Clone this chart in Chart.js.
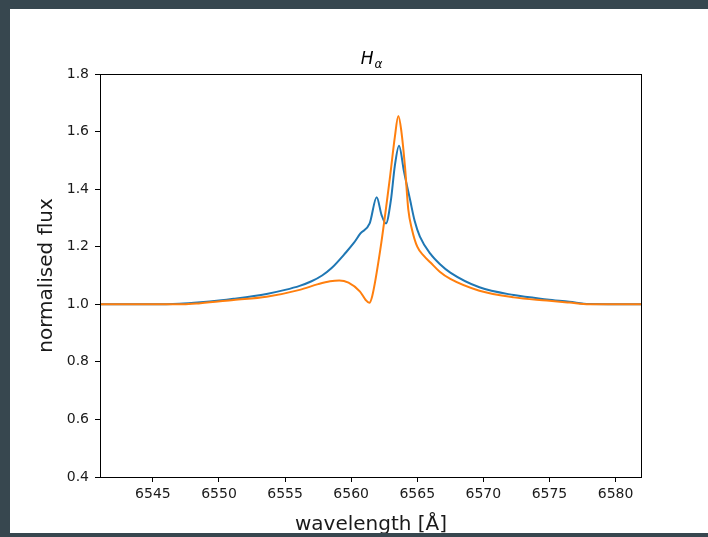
<!DOCTYPE html>
<html>
<head>
<meta charset="utf-8">
<style>
  html, body { margin: 0; padding: 0; background: #37474f; width: 708px; height: 537px; overflow: hidden; }
  .panel { position: absolute; left: 10px; top: 9px; width: 698px; height: 524px; background: #fff; overflow: hidden; }
  canvas { display: block; }
</style>
</head>
<body>
<div class="panel">
  <canvas id="myChart" width="698" height="545"></canvas>
</div>
<script src="https://cdn.jsdelivr.net/npm/chart.js@4.4.1/dist/chart.umd.min.js"></script>
<script>
// series 1 (blue)
var blueWave = [6541, 6545, 6547, 6548.6, 6550, 6551.1, 6553.6, 6555, 6556.1, 6557, 6557.8, 6558.5, 6559.6, 6560.2, 6560.7, 6561.4, 6561.93, 6562.3, 6562.63, 6563.0, 6563.3, 6563.62, 6564.0, 6564.46, 6564.8, 6565.2, 6566.0, 6566.7, 6567.5, 6569.7, 6572.3, 6574.8, 6576.5, 6578, 6582];
var blueFlux = [1.0, 1.0, 1.002, 1.007, 1.013, 1.019, 1.036, 1.05, 1.064, 1.08, 1.1, 1.125, 1.18, 1.213, 1.246, 1.281, 1.372, 1.31, 1.281, 1.36, 1.48, 1.551, 1.46, 1.362, 1.29, 1.235, 1.175, 1.14, 1.11, 1.059, 1.032, 1.017, 1.009, 1.001, 1.0];

// series 2 (orange)
var orangeWave = [6541, 6545, 6547.3, 6548.6, 6551.1, 6553.6, 6556.1, 6557.5, 6558.4, 6559.1, 6559.8, 6560.67, 6561.1, 6561.37, 6561.6, 6562.2, 6562.94, 6563.3, 6563.57, 6563.8, 6564.07, 6564.32, 6564.6, 6565.0, 6565.5, 6566.0, 6566.7, 6567.5, 6569.7, 6572.3, 6574.8, 6576.5, 6578, 6582];
var orangeFlux = [1.0, 1.0, 1.0, 1.004, 1.015, 1.026, 1.05, 1.07, 1.08, 1.083, 1.075, 1.044, 1.015, 1.005, 1.03, 1.189, 1.443, 1.58, 1.654, 1.6, 1.478, 1.33, 1.26, 1.2, 1.168, 1.145, 1.113, 1.088, 1.047, 1.024, 1.013, 1.006, 1.0, 1.0];

var xTicks = [6545, 6550, 6555, 6560, 6565, 6570, 6575, 6580];
var yTicks = [0.4, 0.6, 0.8, 1.0, 1.2, 1.4, 1.6, 1.8];

function pts(xs, ys) {
  var out = [];
  for (var i = 0; i < xs.length; i++) out.push({x: xs[i], y: ys[i]});
  return out;
}

var FONT = 'DejaVu Sans';
var tickFont = {family: FONT, size: 14};

// frame + title with subscript
var framePlugin = {
  id: 'frame',
  afterDraw: function(chart) {
    var ctx = chart.ctx, a = chart.chartArea;
    ctx.save();
    ctx.strokeStyle = '#000';
    ctx.lineWidth = 1;
    ctx.strokeRect(Math.round(a.left) + 0.5, Math.round(a.top) + 0.5, Math.round(a.right - a.left) - 1, Math.round(a.bottom - a.top));
    var cx = (a.left + a.right) / 2, base = a.top - 10;
    ctx.fillStyle = '#000';
    ctx.textBaseline = 'alphabetic';
    ctx.font = 'italic 17px ' + FONT;
    var w1 = ctx.measureText('H').width;
    ctx.font = 'italic 12px ' + FONT;
    var w2 = ctx.measureText('\u03b1').width;
    var x0 = cx - (w1 + w2) / 2;
    ctx.font = 'italic 17px ' + FONT;
    ctx.fillText('H', x0, base);
    ctx.font = 'italic 12px ' + FONT;
    ctx.fillText('\u03b1', x0 + w1 + 1, base + 4);
    ctx.restore();
  }
};

var ctx = document.getElementById('myChart');
var myChart = new Chart(ctx, {
  type: 'line',
  data: {
    datasets: [
      {label: 'model 2', data: pts(orangeWave, orangeFlux), borderColor: '#ff7f0e', borderWidth: 2, pointRadius: 0, cubicInterpolationMode: 'monotone', fill: false},
      {label: 'model 1', data: pts(blueWave, blueFlux), borderColor: '#1f77b4', borderWidth: 2, pointRadius: 0, cubicInterpolationMode: 'monotone', fill: false}
    ]
  },
  options: {
    responsive: false,
    animation: false,
    devicePixelRatio: 1,
    layout: {padding: {left: 0, right: 66, top: 65, bottom: 0}},
    plugins: {legend: {display: false}, tooltip: {enabled: false}, title: {display: false}},
    scales: {
      x: {
        type: 'linear', min: 6541, max: 6582,
        afterBuildTicks: function(s) { s.ticks = xTicks.map(function(v){ return {value: v}; }); },
        afterFit: function(s) { s.height = 77; },
        grid: {drawOnChartArea: false, drawTicks: true, tickLength: 5, color: '#000'},
        border: {display: false},
        ticks: {font: tickFont, color: '#1a1a1a', padding: 4, maxRotation: 0, autoSkip: false,
                callback: function(v){ return String(v); }},
        title: {display: true, text: 'wavelength [\u00c5]', font: {family: FONT, size: 20, lineHeight: 1.2}, color: '#1a1a1a', padding: {top: 0, bottom: 17}}
      },
      y: {
        min: 0.4, max: 1.8,
        afterBuildTicks: function(s) { s.ticks = yTicks.map(function(v){ return {value: v}; }); },
        afterFit: function(s) { s.width = 90; },
        grid: {drawOnChartArea: false, drawTicks: true, tickLength: 5, color: '#000'},
        border: {display: false},
        ticks: {font: tickFont, color: '#1a1a1a', padding: 6, autoSkip: false,
                callback: function(v){ return Number(v).toFixed(1); }},
        title: {display: true, text: 'normalised flux', font: {family: FONT, size: 20, lineHeight: 1.2}, color: '#1a1a1a', padding: {top: 25, bottom: 0}}
      }
    }
  },
  plugins: [framePlugin]
});
</script>
</body>
</html>
